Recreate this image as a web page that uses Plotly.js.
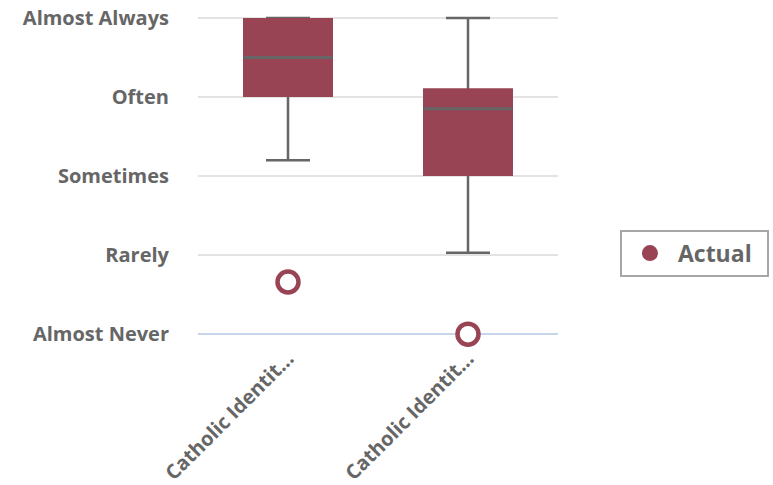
<!DOCTYPE html>
<html>
<head>
<meta charset="utf-8">
<script src="https://cdn.plot.ly/plotly-3.0.1.min.js"></script>
<style>html,body{margin:0;padding:0;background:#fff;}#chart{width:773px;height:485px;}</style>
</head>
<body>
<div id="chart"></div>
<script>
// Likert scale levels (0 = Almost Never ... 4 = Almost Always)
var levelLabels = ['Almost Never', 'Rarely', 'Sometimes', 'Often', 'Almost Always'];
var levelValues = [0, 1, 2, 3, 4];

// Categories (truncated labels as shown)
var categoryPos = [0, 1];
var categoryLabels = ['Catholic Identit...', 'Catholic Identit...'];

// Box statistics per category
var lowerWhisker = [2.2, 1.03];
var q1 = [3, 2];
var median = [3.5, 2.85];
var q3 = [4, 3.11];
var upperWhisker = [4, 4];

// Outliers
var outlierX = [0, 1];
var outlierY = [0.66, 0];

var seriesName = 'Actual';
var maroon = '#994455';
var gray = '#666666';
var fontFam = 'Open Sans, sans-serif';

var whiskerLen = upperWhisker.map(function (u, i) { return u - lowerWhisker[i]; });
var zeros = lowerWhisker.map(function () { return 0; });
var boxHeight = q3.map(function (v, i) { return v - q1[i]; });

var traces = [
  { // whiskers with caps
    type: 'scatter', mode: 'markers', x: categoryPos, y: lowerWhisker,
    xaxis: 'x', yaxis: 'y',
    marker: { opacity: 0, size: 1, color: gray },
    error_y: { type: 'data', symmetric: false, array: whiskerLen, arrayminus: zeros,
               color: gray, thickness: 2.5, width: 22 },
    showlegend: false, hoverinfo: 'skip'
  },
  { // outliers
    type: 'scatter', mode: 'markers', x: outlierX, y: outlierY,
    xaxis: 'x', yaxis: 'y', cliponaxis: false,
    marker: { symbol: 'circle', size: 21, color: '#ffffff', line: { color: maroon, width: 4.5 } },
    showlegend: false, hoverinfo: 'skip'
  },
  { // boxes
    type: 'bar', x: categoryPos, y: boxHeight, base: q1, width: 0.5,
    xaxis: 'x2', yaxis: 'y2',
    marker: { color: maroon, line: { width: 0 } },
    showlegend: false, hoverinfo: 'skip'
  },
  { // medians
    type: 'scatter', mode: 'markers', x: categoryPos, y: median,
    xaxis: 'x2', yaxis: 'y2',
    marker: { symbol: 'line-ew', size: 63, color: gray, line: { color: gray, width: 3 } },
    showlegend: false, hoverinfo: 'skip'
  },
  { // legend entry
    type: 'scatter', mode: 'markers', x: [null], y: [null], name: seriesName,
    xaxis: 'x', yaxis: 'y',
    marker: { symbol: 'circle', size: 16, color: maroon }
  }
];

var xr = [-0.5, 1.5];
var yr = [-0.15, 4.05];

var layout = {
  width: 773, height: 485,
  margin: { l: 198, r: 215, t: 14, b: 139, autoexpand: false },
  paper_bgcolor: '#ffffff', plot_bgcolor: '#ffffff',
  font: { family: fontFam, color: gray },
  hovermode: false,
  xaxis: {
    range: xr, tickmode: 'array', tickvals: categoryPos, ticktext: categoryLabels,
    tickangle: -45, showgrid: false, zeroline: false, showline: false, ticks: '',
    ticklabelstandoff: -4, automargin: false,
    tickfont: { family: fontFam, size: 20, color: gray, weight: 'bold' }
  },
  yaxis: {
    range: yr, tickmode: 'array', tickvals: levelValues, ticktext: levelLabels,
    showgrid: true, gridcolor: '#e3e3e3', gridwidth: 2,
    zeroline: true, zerolinecolor: '#c8d4e9', zerolinewidth: 2,
    showline: false, ticks: '', ticklabelstandoff: 28, automargin: false,
    tickfont: { family: fontFam, size: 20, color: gray, weight: 'bold' }
  },
  xaxis2: { overlaying: 'x', anchor: 'y2', range: xr, visible: false },
  yaxis2: { overlaying: 'y', anchor: 'x2', range: yr, visible: false },
  showlegend: true,
  legend: {
    orientation: 'h', entrywidth: 84, itemwidth: 46,
    xref: 'container', yref: 'container',
    x: 0.802, xanchor: 'left', y: 0.478, yanchor: 'middle',
    bordercolor: '#a6a6a6', borderwidth: 2, bgcolor: '#ffffff',
    font: { family: fontFam, size: 23, color: gray, weight: 'bold' }
  }
};

Plotly.newPlot('chart', traces, layout, { displayModeBar: false, staticPlot: true });
</script>
</body>
</html>
